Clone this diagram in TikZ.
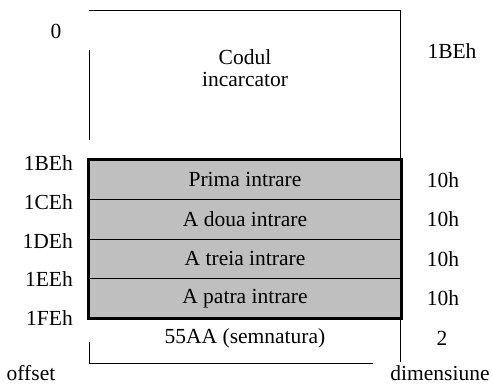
\documentclass[tikz,border=0pt]{standalone}
\usepackage{fontspec}
\setmainfont{Liberation Serif}
\usetikzlibrary{positioning}
\tikzset{rowstyle/.style={rectangle,draw,fill=black!25,minimum width=312pt,minimum height=39.5pt,inner sep=0pt,font=\fontsize{21.5}{22}\selectfont}}
\tikzset{labstyle/.style={inner sep=0pt,font=\fontsize{21.5}{22}\selectfont}}

\begin{document}
\begin{tikzpicture}[x=1pt,y=-1pt]
        \useasboundingbox (0,0) rectangle (492,385);

        % Loader area
        \draw (89,140) -- (89,50);
        \draw (89,10) -- (400,10) -- (400,160);
        \node[labstyle,align=center] (cod) at (245,68) {Codul\\incarcator};
        \node[labstyle] (zero) at (56,31) {0};
        \node[labstyle] (dimcod) at (452,51) {1BEh};

        % Partition entries
        \foreach \i/\txt in {1/Prima intrare,2/A doua intrare,3/A treia intrare,4/A patra intrare}
        {
            \pgfmathsetmacro{\y}{160 + 39.5*(\i-1) + 19.75}
            \node[rowstyle] (row\i) at (245,\y) {\txt};
            \node[labstyle] (dim\i) at (443,\y) {10h};
        }
        \draw[line width=3pt] (row1.north west) rectangle (row4.south east);

        % Offsets
        \foreach \i/\txt in {0/1BEh,1/1CEh,2/1DEh,3/1EEh,4/1FEh}
        {
            \pgfmathsetmacro{\y}{163 + 38.8*\i}
            \node[labstyle,anchor=east] (off\i) at (73,\y) {\txt};
        }

        % Signature
        \node[labstyle] (sig) at (245,338) {55AA (semnatura)};
        \node[labstyle] (dimsig) at (442,338) {2};
        \draw (89,342) -- (89,363) -- (373,363);
        \draw (400,318) -- (400,362);

        \node[labstyle] (offset) at (31,373) {offset};
        \node[labstyle] (dimensiune) at (440,373) {dimensiune};
\end{tikzpicture}
\end{document}
